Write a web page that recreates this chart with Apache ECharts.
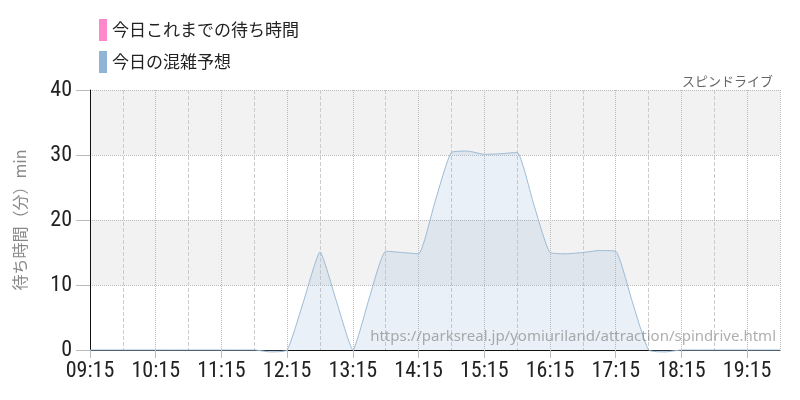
<!DOCTYPE html>
<html><head><meta charset="utf-8">
<script src="https://cdn.jsdelivr.net/npm/echarts@6/dist/echarts.min.js"></script>
<style>html,body{margin:0;padding:0;background:#fff}#c{width:800px;height:400px}</style>
</head><body><div id="c"></div>
<script>
var times = ['09:15','09:30','09:45','10:00','10:15','10:30','10:45','11:00','11:15','11:30','11:45',
 '12:00','12:15','12:30','12:45','13:00','13:15','13:30','13:45','14:00','14:15','14:30','14:45',
 '15:00','15:15','15:30','15:45','16:00','16:15','16:30','16:45','17:00','17:15','17:30','17:45',
 '18:00','18:15','18:30','18:45','19:00','19:15','19:30','19:45'];
var forecast = [0,0,0,0,0,0,0,0,0,0,0,
 -0.3,0,7.5,15.1,7.5,0,8,15.2,15.0,14.8,22.8,30.4,
 30.6,30.1,30.2,30.4,22.5,15.0,14.8,15.0,15.3,15.2,7.5,0,
 -0.3,0,0,0,0,0,0,0];
var actual = [];
var yTicks = [0,10,20,30,40];
var seriesNames = ['今日これまでの待ち時間','今日の混雑予想'];
var titleText = 'スピンドライブ';
var yName = '待ち時間（分）min';
var watermark = 'https://parksreal.jp/yomiuriland/attraction/spindrive.html';

function toMin(s){var p=s.split(':');return (+p[0])*60+(+p[1]);}
function fmt(m){var h=Math.floor(m/60),mm=m%60;return (h<10?'0':'')+h+':'+(mm<10?'0':'')+mm;}
var condensed = '"Roboto Condensed","Liberation Sans Narrow","DejaVu Sans Condensed",sans-serif';
var jp = '"Noto Sans CJK JP","Noto Sans",sans-serif';

var chart = echarts.init(document.getElementById('c'), null, {renderer:'canvas'});
chart.setOption({
  animation:false,
  title:{text:titleText, right:22, top:70, textStyle:{fontSize:13, fontWeight:'normal', color:'#666', fontFamily:jp}},
  legend:{orient:'vertical', left:94, top:14, itemWidth:8, itemHeight:22, itemGap:10,
    textStyle:{fontSize:17, color:'#222', fontFamily:jp},
    data:[{name:seriesNames[0], icon:'rect'},{name:seriesNames[1], icon:'rect'}]},
  grid:{left:90, right:20, top:90, bottom:50},
  xAxis:{type:'value', min:toMin(times[0]), max:toMin(times[times.length-1]), interval:60,
    axisLine:{show:true, onZero:false, lineStyle:{color:'#111', width:1}},
    axisTick:{show:true, length:8, lineStyle:{color:'#bbb'}},
    axisLabel:{formatter:function(v){return fmt(v);}, fontSize:22, color:'#222', fontFamily:condensed, margin:10},
    splitLine:{show:true, lineStyle:{color:'#bbb', type:'dotted'}},
    minorTick:{show:false, splitNumber:2},
    minorSplitLine:{show:true, lineStyle:{color:'#ccc', type:'dashed'}}
  },
  yAxis:{type:'value', min:yTicks[0], max:yTicks[yTicks.length-1], interval:10,
    name:yName, nameLocation:'middle', nameGap:62, nameRotate:90,
    nameTextStyle:{fontSize:16, color:'#888', fontFamily:jp},
    axisLine:{show:true, lineStyle:{color:'#111'}},
    axisTick:{show:true, length:14, lineStyle:{color:'#bbb'}},
    axisLabel:{fontSize:22, color:'#222', fontFamily:condensed, margin:18},
    splitLine:{show:true, lineStyle:{color:'#bbb', type:'dotted'}},
    splitArea:{show:true, areaStyle:{color:['#ffffff','#f2f2f2']}}
  },
  graphic:[{type:'text', right:24, top:329, z:100,
    style:{text:watermark, fontSize:15, fill:'rgba(120,120,120,0.6)', fontFamily:'"Noto Sans",sans-serif'}}],
  series:[
    {name:seriesNames[0], type:'line', color:'#ff88cc', data:actual.map(function(v,i){return [toMin(times[i]),v];}), symbol:'none'},
    {name:seriesNames[1], type:'line', color:'#8fb4d4', symbol:'none', smooth:0.15, clip:false,
      lineStyle:{width:1, color:'#9dbbd6'},
      areaStyle:{color:'rgba(143,180,212,0.28)', origin:'start'},
      data:forecast.map(function(v,i){return [toMin(times[i]),v];})}
  ]
});
</script></body></html>
